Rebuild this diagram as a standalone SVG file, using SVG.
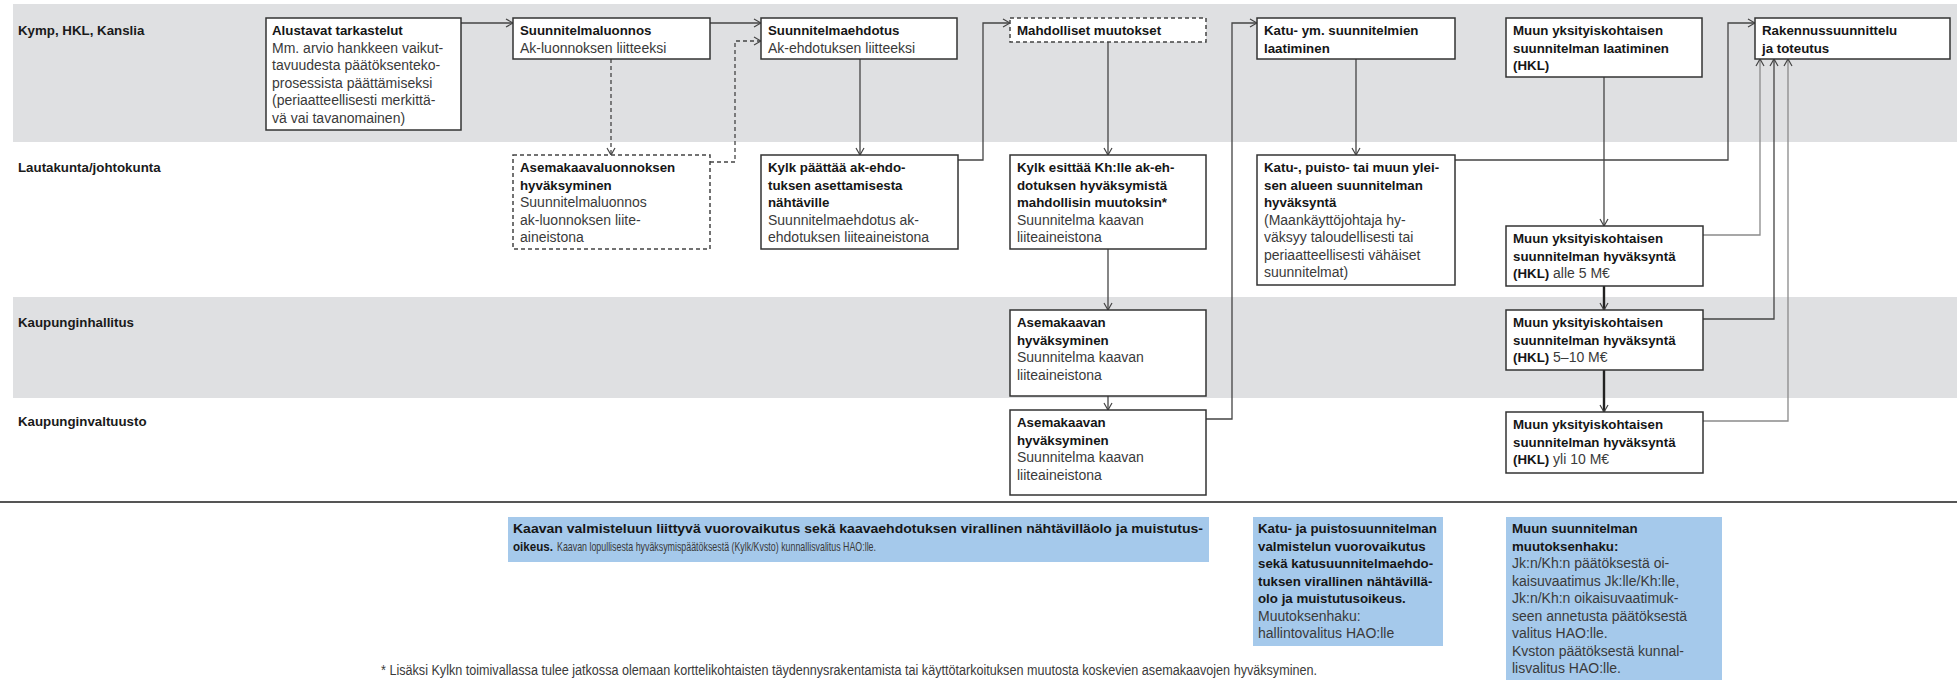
<svg xmlns="http://www.w3.org/2000/svg" width="1957" height="680" viewBox="0 0 1957 680">
<style>
text{font-family:"Liberation Sans",Arial,sans-serif}
.lane{font-size:13.3px;font-weight:bold;fill:#1a1a1a}
.b{font-size:13.3px;font-weight:bold;fill:#161616}
.r{font-size:14px;fill:#3a3a3a}
.s{font-size:13px;fill:#3a3a3a}
.sb{font-size:13px;font-weight:bold;fill:#161616}
.box{fill:#fff;stroke:#333;stroke-width:1.5}
.dbox{fill:#fff;stroke:#444;stroke-width:1.5;stroke-dasharray:4 3}
.band{fill:#dfe0e2}
.blue{fill:#a5c9eb}
.c{fill:none;stroke:#444;stroke-width:1.3}
.d{stroke-dasharray:4 3}
.thick{stroke:#222;stroke-width:2.4}
.light{stroke:#8a8a8a}
</style>
<defs>
<marker id="ah" markerUnits="userSpaceOnUse" markerWidth="9" markerHeight="10" viewBox="0 0 9 10" refX="8" refY="5" orient="auto">
<path d="M1,1 L8,5 L1,9" fill="none" stroke="#444" stroke-width="1.2"/>
</marker>
</defs>

<g id="lanes">
<rect class="band" x="13" y="4" width="1944" height="138"/>
<rect class="band" x="13" y="297" width="1944" height="101"/>
<text class="lane" x="18" y="35">Kymp, HKL, Kanslia</text>
<text class="lane" x="18" y="172">Lautakunta/johtokunta</text>
<text class="lane" x="18" y="327">Kaupunginhallitus</text>
<text class="lane" x="18" y="426">Kaupunginvaltuusto</text>
<rect x="0" y="501" width="1957" height="2" fill="#555"/>
</g>

<g id="connectors">
<path class="c" d="M461,23 H513" marker-end="url(#ah)"/>
<path class="c" d="M710,23 H761" marker-end="url(#ah)"/>
<path class="c d" d="M611,59 V155" marker-end="url(#ah)"/>
<path class="c d" d="M710,162 H735 V41 H761" marker-end="url(#ah)"/>
<path class="c" d="M860,59 V155" marker-end="url(#ah)"/>
<path class="c" d="M958,160 H983 V23 H1010" marker-end="url(#ah)"/>
<path class="c" d="M1108,42 V155" marker-end="url(#ah)"/>
<path class="c" d="M1108,249 V310" marker-end="url(#ah)"/>
<path class="c" d="M1108,396 V410" marker-end="url(#ah)"/>
<path class="c" d="M1206,419 H1232 V23 H1257" marker-end="url(#ah)"/>
<path class="c" d="M1356,59 V155" marker-end="url(#ah)"/>
<path class="c" d="M1455,160 H1728 V23 H1755" marker-end="url(#ah)"/>
<path class="c" d="M1604,77 V226" marker-end="url(#ah)"/>
<path class="c thick" d="M1604,286 V310" marker-end="url(#ah)"/>
<path class="c thick" d="M1604,370 V412" marker-end="url(#ah)"/>
<path class="c light" d="M1703,235 H1760 V59" marker-end="url(#ah)"/>
<path class="c" d="M1703,319 H1774 V59" marker-end="url(#ah)"/>
<path class="c light" d="M1703,421 H1788 V59" marker-end="url(#ah)"/>
</g>

<g id="n-alustavat">
<rect class="box" x="266" y="18" width="195" height="112"/>
<text class="b" x="272" y="35">Alustavat tarkastelut</text>
<text class="r" x="272" y="52.5">Mm. arvio hankkeen vaikut-</text>
<text class="r" x="272" y="70">tavuudesta päätöksenteko-</text>
<text class="r" x="272" y="87.5">prosessista päättämiseksi</text>
<text class="r" x="272" y="105">(periaatteellisesti merkittä-</text>
<text class="r" x="272" y="122.5">vä vai tavanomainen)</text>
</g>

<g id="n-luonnos">
<rect class="box" x="513" y="18" width="197" height="41"/>
<text class="b" x="520" y="35">Suunnitelmaluonnos</text>
<text class="r" x="520" y="52.5">Ak-luonnoksen liitteeksi</text>
</g>

<g id="n-ehdotus">
<rect class="box" x="761" y="18" width="196" height="41"/>
<text class="b" x="768" y="35">Suunnitelmaehdotus</text>
<text class="r" x="768" y="52.5">Ak-ehdotuksen liitteeksi</text>
</g>

<g id="n-akluonnos">
<rect class="dbox" x="513" y="155" width="197" height="94"/>
<text class="b" x="520" y="172">Asemakaavaluonnoksen</text>
<text class="b" x="520" y="189.5">hyväksyminen</text>
<text class="r" x="520" y="207">Suunnitelmaluonnos</text>
<text class="r" x="520" y="224.5">ak-luonnoksen liite-</text>
<text class="r" x="520" y="242">aineistona</text>
</g>

<g id="n-kylk-nahtaville">
<rect class="box" x="761" y="155" width="197" height="94"/>
<text class="b" x="768" y="172">Kylk päättää ak-ehdo-</text>
<text class="b" x="768" y="189.5">tuksen asettamisesta</text>
<text class="b" x="768" y="207">nähtäville</text>
<text class="r" x="768" y="224.5">Suunnitelmaehdotus ak-</text>
<text class="r" x="768" y="242">ehdotuksen liiteaineistona</text>
</g>

<g id="n-muutokset">
<rect class="dbox" x="1010" y="18" width="196" height="24"/>
<text class="b" x="1017" y="35">Mahdolliset muutokset</text>
</g>

<g id="n-kylk-esittaa">
<rect class="box" x="1010" y="155" width="196" height="94"/>
<text class="b" x="1017" y="172">Kylk esittää Kh:lle ak-eh-</text>
<text class="b" x="1017" y="189.5">dotuksen hyväksymistä</text>
<text class="b" x="1017" y="207">mahdollisin muutoksin*</text>
<text class="r" x="1017" y="224.5">Suunnitelma kaavan</text>
<text class="r" x="1017" y="242">liiteaineistona</text>
</g>

<g id="n-ak-kh">
<rect class="box" x="1010" y="310" width="196" height="86"/>
<text class="b" x="1017" y="327">Asemakaavan</text>
<text class="b" x="1017" y="344.5">hyväksyminen</text>
<text class="r" x="1017" y="362">Suunnitelma kaavan</text>
<text class="r" x="1017" y="379.5">liiteaineistona</text>
</g>

<g id="n-ak-kv">
<rect class="box" x="1010" y="410" width="196" height="85"/>
<text class="b" x="1017" y="427">Asemakaavan</text>
<text class="b" x="1017" y="444.5">hyväksyminen</text>
<text class="r" x="1017" y="462">Suunnitelma kaavan</text>
<text class="r" x="1017" y="479.5">liiteaineistona</text>
</g>

<g id="n-katu-laatiminen">
<rect class="box" x="1257" y="18" width="198" height="41"/>
<text class="b" x="1264" y="35">Katu- ym. suunnitelmien</text>
<text class="b" x="1264" y="52.5">laatiminen</text>
</g>

<g id="n-katu-hyvaksynta">
<rect class="box" x="1257" y="155" width="198" height="130"/>
<text class="b" x="1264" y="172">Katu-, puisto- tai muun ylei-</text>
<text class="b" x="1264" y="189.5">sen alueen suunnitelman</text>
<text class="b" x="1264" y="207">hyväksyntä</text>
<text class="r" x="1264" y="224.5">(Maankäyttöjohtaja hy-</text>
<text class="r" x="1264" y="242">väksyy taloudellisesti tai</text>
<text class="r" x="1264" y="259.5">periaatteellisesti vähäiset</text>
<text class="r" x="1264" y="277">suunnitelmat)</text>
</g>

<g id="n-muun-laatiminen">
<rect class="box" x="1506" y="18" width="196" height="59"/>
<text class="b" x="1513" y="35">Muun yksityiskohtaisen</text>
<text class="b" x="1513" y="52.5">suunnitelman laatiminen</text>
<text class="b" x="1513" y="70">(HKL)</text>
</g>

<g id="n-rakennus">
<rect class="box" x="1755" y="18" width="195" height="41"/>
<text class="b" x="1762" y="35">Rakennussuunnittelu</text>
<text class="b" x="1762" y="52.5">ja toteutus</text>
</g>

<g id="n-muun-alle5">
<rect class="box" x="1506" y="226" width="197" height="60"/>
<text class="b" x="1513" y="243">Muun yksityiskohtaisen</text>
<text class="b" x="1513" y="260.5">suunnitelman hyväksyntä</text>
<text x="1513" y="278"><tspan class="b">(HKL)</tspan><tspan class="r"> alle 5 M€</tspan></text>
</g>

<g id="n-muun-5-10">
<rect class="box" x="1506" y="310" width="197" height="60"/>
<text class="b" x="1513" y="327">Muun yksityiskohtaisen</text>
<text class="b" x="1513" y="344.5">suunnitelman hyväksyntä</text>
<text x="1513" y="362"><tspan class="b">(HKL)</tspan><tspan class="r"> 5–10 M€</tspan></text>
</g>

<g id="n-muun-yli10">
<rect class="box" x="1506" y="412" width="197" height="61"/>
<text class="b" x="1513" y="429">Muun yksityiskohtaisen</text>
<text class="b" x="1513" y="446.5">suunnitelman hyväksyntä</text>
<text x="1513" y="464"><tspan class="b">(HKL)</tspan><tspan class="r"> yli 10 M€</tspan></text>
</g>

<g id="n-note-kaava">
<rect class="blue" x="508" y="517" width="701" height="45"/>
<text class="b" x="513" y="533" textLength="690" lengthAdjust="spacingAndGlyphs">Kaavan valmisteluun liittyvä vuorovaikutus sekä kaavaehdotuksen virallinen nähtävilläolo ja muistutus-</text>
<text class="sb" x="513" y="551" textLength="40" lengthAdjust="spacingAndGlyphs">oikeus.</text>
<text class="s" x="557" y="551" textLength="319" lengthAdjust="spacingAndGlyphs">Kaavan lopullisesta hyväksymispäätöksestä (Kylk/Kvsto) kunnallisvalitus HAO:lle.</text>
</g>

<g id="n-note-katu">
<rect class="blue" x="1253" y="517" width="190" height="129"/>
<text class="b" x="1258" y="533">Katu- ja puistosuunnitelman</text>
<text class="b" x="1258" y="550.5">valmistelun vuorovaikutus</text>
<text class="b" x="1258" y="568">sekä katusuunnitelmaehdo-</text>
<text class="b" x="1258" y="585.5">tuksen virallinen nähtävillä-</text>
<text class="b" x="1258" y="603">olo ja muistutusoikeus.</text>
<text class="r" x="1258" y="620.5">Muutoksenhaku:</text>
<text class="r" x="1258" y="638">hallintovalitus HAO:lle</text>
</g>

<g id="n-note-muun">
<rect class="blue" x="1506" y="517" width="216" height="163"/>
<text class="b" x="1512" y="533">Muun suunnitelman</text>
<text class="b" x="1512" y="550.5">muutoksenhaku:</text>
<text class="r" x="1512" y="568">Jk:n/Kh:n päätöksestä oi-</text>
<text class="r" x="1512" y="585.5">kaisuvaatimus Jk:lle/Kh:lle,</text>
<text class="r" x="1512" y="603">Jk:n/Kh:n oikaisuvaatimuk-</text>
<text class="r" x="1512" y="620.5">seen annetusta päätöksestä</text>
<text class="r" x="1512" y="638">valitus HAO:lle.</text>
<text class="r" x="1512" y="655.5">Kvston päätöksestä kunnal-</text>
<text class="r" x="1512" y="673">lisvalitus HAO:lle.</text>
</g>

<g id="footnote">
<text class="r" x="381" y="675" textLength="936" lengthAdjust="spacingAndGlyphs">* Lisäksi Kylkn toimivallassa tulee jatkossa olemaan korttelikohtaisten täydennysrakentamista tai käyttötarkoituksen muutosta koskevien asemakaavojen hyväksyminen.</text>
</g>
</svg>
